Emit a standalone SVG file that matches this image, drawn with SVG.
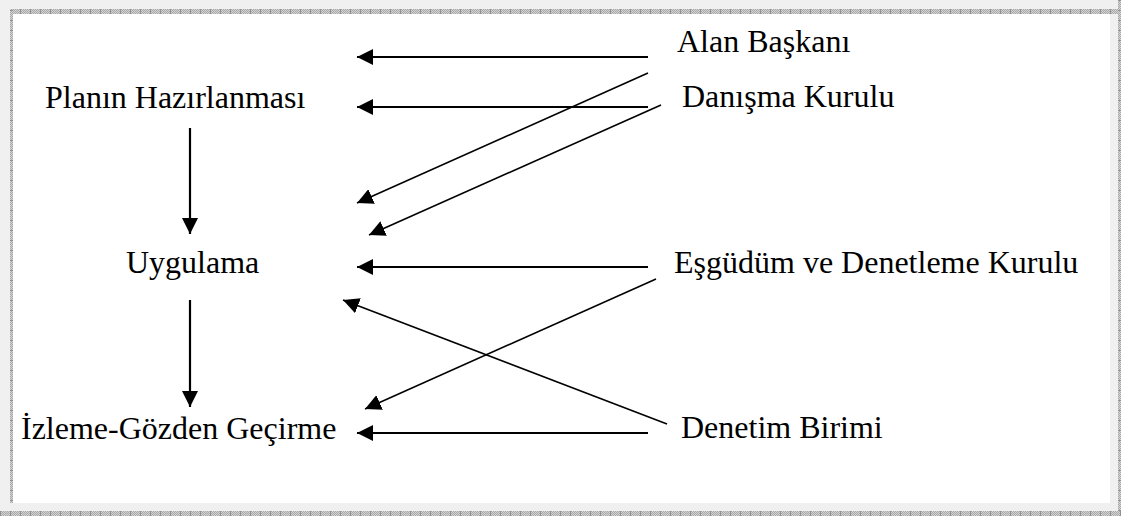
<svg xmlns="http://www.w3.org/2000/svg" width="1121" height="516" viewBox="0 0 1121 516">
<style>
.lbl{font-family:"Liberation Serif","Times New Roman",serif;font-size:32px;fill:#000}
.thick{stroke:#000;stroke-width:2.2;fill:none}
.thin{stroke:#000;stroke-width:1.6;fill:none}
</style>
<defs>
<pattern id="chk" width="2" height="2" patternUnits="userSpaceOnUse">
<rect width="2" height="2" fill="#d4d4d4"/>
<rect width="1" height="1" fill="#a8a8a8"/>
<rect x="1" y="1" width="1" height="1" fill="#a8a8a8"/>
</pattern>
<pattern id="tickH" width="10" height="6" patternUnits="userSpaceOnUse">
<rect width="10" height="6" fill="url(#chk)"/>
<rect width="1" height="6" fill="#909090"/>
</pattern>
<pattern id="tickV" width="6" height="10" patternUnits="userSpaceOnUse">
<rect width="6" height="10" fill="url(#chk)"/>
<rect width="6" height="1" fill="#909090"/>
</pattern>
<marker id="ah" markerUnits="userSpaceOnUse" markerWidth="16" markerHeight="16" refX="16" refY="8" orient="auto" viewBox="0 0 16 16">
<path d="M0,0 L16,8 L0,16 z" fill="#000"/>
</marker>
</defs>
<g id="frame">
<rect x="0" y="0" width="1121" height="516" fill="#f0f0f0"/>
<rect x="13" y="14" width="1097" height="489" fill="#ffffff"/>
<rect x="10" y="9" width="1108" height="5" fill="url(#tickH)"/>
<rect x="10" y="9" width="3" height="494" fill="url(#tickV)"/>
<rect x="1118" y="0" width="3" height="516" fill="url(#tickV)"/>
<rect x="0" y="511" width="1121" height="5" fill="url(#tickH)"/>
</g>
<g id="node-plan"><text class="lbl" x="45" y="108">Planın Hazırlanması</text></g>
<g id="node-uygulama"><text class="lbl" x="126" y="273">Uygulama</text></g>
<g id="node-izleme"><text class="lbl" x="21" y="439">İzleme-Gözden Geçirme</text></g>
<g id="node-alan"><text class="lbl" x="677" y="52">Alan Başkanı</text></g>
<g id="node-danisma"><text class="lbl" x="682" y="107">Danışma Kurulu</text></g>
<g id="node-esgudum"><text class="lbl" x="674" y="273">Eşgüdüm ve Denetleme Kurulu</text></g>
<g id="node-denetim"><text class="lbl" x="681" y="438">Denetim Birimi</text></g>
<g id="connectors">
<line class="thick" x1="190" y1="128" x2="190" y2="234" marker-end="url(#ah)"/>
<line class="thick" x1="190" y1="300" x2="190" y2="407" marker-end="url(#ah)"/>
<line class="thick" x1="648" y1="57" x2="357" y2="57" marker-end="url(#ah)"/>
<line class="thick" x1="648" y1="107" x2="357" y2="107" marker-end="url(#ah)"/>
<line class="thick" x1="648" y1="267" x2="357" y2="267" marker-end="url(#ah)"/>
<line class="thick" x1="648" y1="433" x2="357" y2="433" marker-end="url(#ah)"/>
<line class="thin" x1="648" y1="73" x2="357" y2="203" marker-end="url(#ah)"/>
<line class="thin" x1="661" y1="105" x2="369" y2="235" marker-end="url(#ah)"/>
<line class="thin" x1="656" y1="279" x2="365" y2="409" marker-end="url(#ah)"/>
<line class="thin" x1="667" y1="424" x2="343" y2="300" marker-end="url(#ah)"/>
</g>
</svg>
